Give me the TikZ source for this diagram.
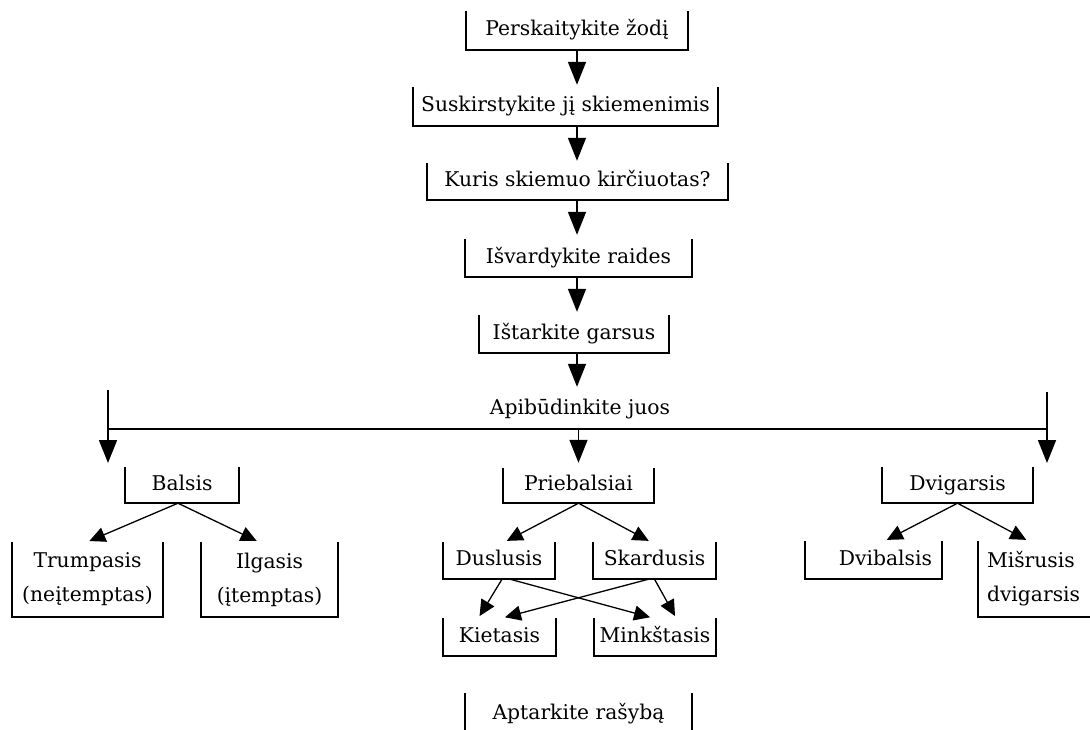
\documentclass[tikz,border=0pt]{standalone}
\usepackage{fontspec}
\setmainfont{DejaVu Serif}
\usetikzlibrary{arrows.meta}
\begin{document}
\begin{tikzpicture}[x=1pt,y=-1pt,
  every node/.style={font=\fontsize{20.3}{34}\selectfont, inner sep=0pt},
  stepbox/.style={text height=15pt, text depth=5pt},
  twoline/.style={align=center},
  sides/.style={line width=1.6pt},
  mainarrow/.style={line width=1.6pt, -{Triangle[length=23pt,width=18pt]}},
  subarrow/.style={line width=1.3pt, -{Triangle[length=16pt,width=15pt]}, shorten >=2pt}]
\clip (0,0) rectangle (1090,729);
\fill[white] (0,0) rectangle (1090,729);

% main column
\node[stepbox, minimum width=222pt, minimum height=39pt] (p1) at (577,30.5) {Perskaitykite žodį};
\node[stepbox, minimum width=305pt, minimum height=39pt] (p2) at (565.5,106.5) {Suskirstykite jį skiemenimis};
\node[stepbox, minimum width=301pt, minimum height=37pt] (p3) at (577.5,181.5) {Kuris skiemuo kirčiuotas?};
\node[stepbox, minimum width=227pt, minimum height=38pt] (p4) at (578.5,258) {Išvardykite raides};
\node[stepbox, minimum width=190pt, minimum height=38pt] (p5) at (574,334) {Ištarkite garsus};
\node[stepbox] (api) at (580,409) {Apibūdinkite juos};

% second level
\node[stepbox, minimum width=114pt, minimum height=36pt] (bal) at (182,485) {Balsis};
\node[stepbox, minimum width=151pt, minimum height=35pt] (pri) at (578.5,485.5) {Priebalsiai};
\node[stepbox, minimum width=151pt, minimum height=36pt] (dvg) at (957.5,485) {Dvigarsis};

% third level
\node[twoline, minimum width=151pt, minimum height=75pt] (tru) at (87.5,579.5) {Trumpasis\\(neįtemptas)};
\node[twoline, minimum width=137pt, minimum height=75pt] (ilg) at (269.5,579.5) {Ilgasis\\(įtemptas)};
\node[stepbox, minimum width=112pt, minimum height=37pt] (dus) at (499,560.5) {Duslusis};
\node[stepbox, minimum width=123pt, minimum height=37pt] (ska) at (654.5,560.5) {Skardusis};
\node[stepbox, minimum width=137pt, minimum height=38pt, text width=117pt, align=right] (dvb) at (873.5,560) {Dvibalsis};
\node[minimum width=118pt, minimum height=76pt, text width=100pt, align=left] (mis) at (1037,579) {Mišrusis\\dvigarsis};

% fourth level
\node[stepbox, minimum width=113pt, minimum height=38pt] (kie) at (499.5,637) {Kietasis};
\node[stepbox, minimum width=122pt, minimum height=38pt] (min) at (655,637) {Minkštasis};

\node[stepbox, minimum width=227pt, minimum height=42pt] (apt) at (578.5,714) {Aptarkite rašybą};

% open-top boxes
\foreach \n in {p1,p2,p3,p4,p5,bal,pri,dvg,tru,ilg,dus,ska,dvb,mis,kie,min,apt}
  \draw[sides] (\n.north west) |- (\n.south east) -- (\n.north east);

% main arrows
\draw[mainarrow, shorten >=2pt] (p1.south) -- (p1.south |- p2.north);
\draw[mainarrow, shorten >=2pt] (p1.south |- p2.south) -- (p1.south |- p3.north);
\draw[mainarrow, shorten >=4pt] (p1.south |- p3.south) -- (p1.south |- p4.north);
\draw[mainarrow, shorten >=3pt] (p1.south |- p4.south) -- (p1.south |- p5.north);
\draw[mainarrow, shorten >=12pt] (p1.south |- p5.south) -- (p1.south |- api.north);

% distribution line
\coordinate (hl) at (108,429);
\coordinate (hr) at (1047,429);
\coordinate (lt) at (108,390);
\coordinate (lb) at (108,463);
\coordinate (rt) at (1047,392);
\coordinate (rb) at (1047,463);
\draw[sides] (hl) -- (hr);
\draw[mainarrow] (lt) -- (lb);
\draw[mainarrow] (rt) -- (rb);
\draw[mainarrow, shorten >=5pt] (pri.north |- hl) -- (pri.north);

% sub arrows
\draw[subarrow] ([xshift=-4pt]bal.south) -- (tru.north);
\draw[subarrow] ([xshift=-4pt]bal.south) -- ([xshift=-11pt]ilg.north);
\draw[subarrow] (pri.south) -- ([xshift=6pt]dus.north);
\draw[subarrow] (pri.south) -- ([xshift=-4pt]ska.north);
\draw[subarrow] ([xshift=3pt]dus.south) -- ([xshift=-21pt]kie.north);
\draw[subarrow] ([xshift=11pt]dus.south) -- ([xshift=-3pt]min.north);
\draw[subarrow] ([xshift=-6pt]ska.south) -- ([xshift=3.5pt]kie.north);
\draw[subarrow] (ska.south) -- ([xshift=21pt]min.north);
\draw[subarrow] (dvg.south) -- ([xshift=11.5pt]dvb.north);
\draw[subarrow] (dvg.south) -- ([xshift=-9pt]mis.north);
\end{tikzpicture}
\end{document}
